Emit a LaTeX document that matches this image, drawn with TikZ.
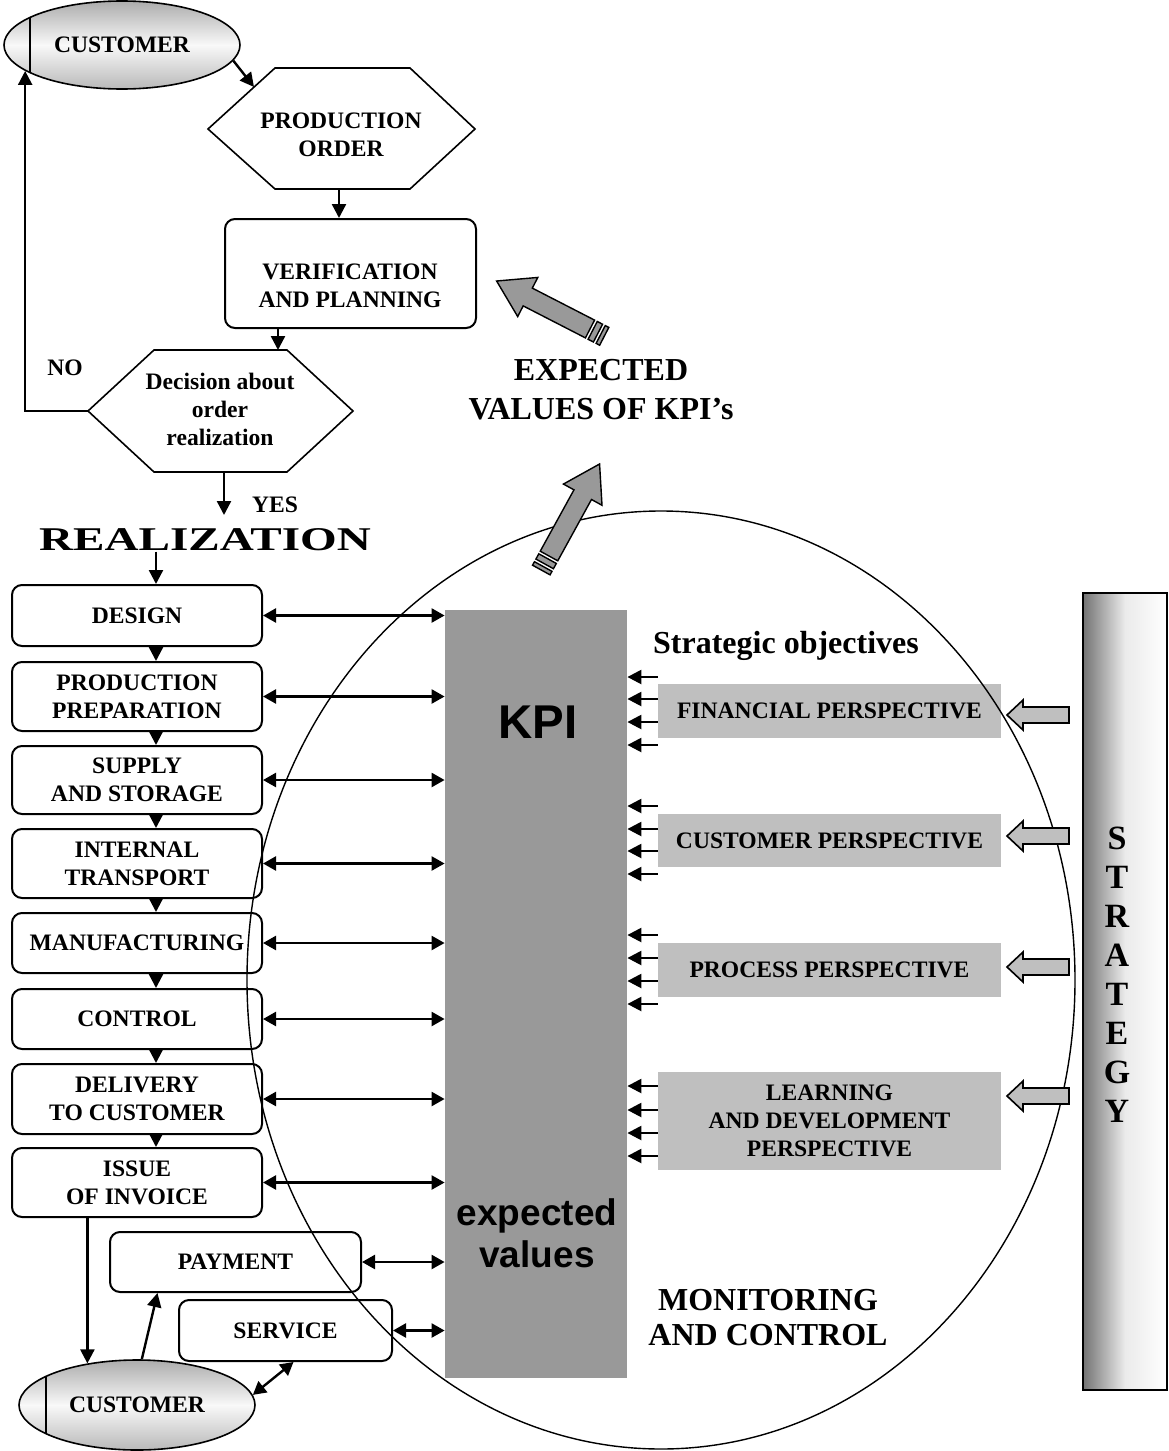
\documentclass[tikz,border=0pt]{standalone}
\usepackage{fontspec}
\setmainfont{Liberation Serif}
\newfontfamily\kpifont{Liberation Sans}
\usepackage{graphicx}
\usetikzlibrary{arrows.meta,fit,positioning,shapes.geometric}
\definecolor{kpigray}{gray}{0.6}
\definecolor{persgray}{gray}{0.75}
\begin{document}
\begin{tikzpicture}[x=0.5pt,y=-0.5pt,
  lbl/.style={font=\bfseries\fontsize{11.8}{14}\selectfont, align=center, inner sep=0pt},
  bigl/.style={font=\bfseries\fontsize{16}{19.5}\selectfont, align=center, inner sep=0pt},
  colbox/.style={draw, line width=1pt, rounded corners=5pt, lbl},
  hexa/.style={draw, line width=0.8pt},
  cust/.style={ellipse, draw, line width=0.8pt, lbl, minimum width=118pt, minimum height=44pt,
    top color=gray!65, bottom color=gray!55, middle color=gray!5},
  persp/.style={fill=persgray, lbl, minimum width=171.5pt},
  link/.style={line width=1.2pt, -{Triangle[length=7pt,width=7pt]}},
  dlink/.style={line width=1.2pt, {Triangle[length=6.5pt,width=7pt]}-{Triangle[length=6.5pt,width=7pt]}},
  fatarr/.style={draw, line width=0.7pt, fill=kpigray},
  hollow/.style={draw, line width=0.8pt, fill=persgray}]
\path[use as bounding box, fill=white] (0,0) rectangle (1168,1451);

% order handling
\node[cust] (cust1) at (122,45) {CUSTOMER};
\draw[line width=0.8pt] (cust1.center) ++(-92,-27.5) -- ++(0,55);
\draw[hexa] (208,129) -- (275,68) -- (410,68) -- (475,129) -- (410,189) -- (275,189) -- cycle;
\node[lbl] (order) at (341,135) {PRODUCTION\\ORDER};
\coordinate (ordin) at (254,87);
\coordinate (ordout) at (339,189);
\node[colbox, minimum width=125.5pt, minimum height=54.5pt] (verif) at (350.5,273.5) {};
\node[lbl] (veriftext) at (350,286) {VERIFICATION\\AND PLANNING};
\draw[hexa] (88,411) -- (154,350) -- (287,350) -- (353,411) -- (287,472) -- (154,472) -- cycle;
\node[lbl] (decision) at (220,409) {Decision about\\order\\realization};
\coordinate (decin) at (278,350);
\coordinate (decno) at (88,411);
\coordinate (decyes) at (224,472);
\coordinate (yesend) at (224,515);
\node[lbl] (no) at (65,368) {NO};
\node[lbl] (yes) at (275,505) {YES};
\node[lbl, font=\bfseries\fontsize{16.6}{20}\selectfont] (realiz) at (205,540) {\scalebox{1.42}[1]{REALIZATION}};

\draw[link] (cust1.-8) -- (ordin);
\draw[link] (ordout) -- (ordout |- verif.north);
\draw[link] (verif.south -| decin) -- (decin);
\draw[link] (decno) -| (cust1.195);
\draw[link] (decyes) -- (yesend);

% realization chain
\coordinate (spine) at (156,0);
\node[colbox, minimum width=125pt, minimum height=30.5pt] (design) at (137,615.5) {DESIGN};
\node[colbox, minimum width=125pt, minimum height=34.5pt] (prep) at (137,696.5) {PRODUCTION\\PREPARATION};
\node[colbox, minimum width=125pt, minimum height=34pt] (supply) at (137,780) {SUPPLY\\AND STORAGE};
\node[colbox, minimum width=125pt, minimum height=34.5pt] (transp) at (137,863.5) {INTERNAL\\TRANSPORT};
\node[colbox, minimum width=125pt, minimum height=30pt] (manuf) at (137,943) {MANUFACTURING};
\node[colbox, minimum width=125pt, minimum height=30pt] (control) at (137,1019) {CONTROL};
\node[colbox, minimum width=125pt, minimum height=35pt] (deliv) at (137,1099) {DELIVERY\\TO CUSTOMER};
\node[colbox, minimum width=125pt, minimum height=34.5pt] (issue) at (137,1182.5) {ISSUE\\OF INVOICE};
\node[colbox, minimum width=125.5pt, minimum height=30pt] (payment) at (235.5,1262) {PAYMENT};
\node[colbox, minimum width=106.5pt, minimum height=30.5pt] (service) at (285.5,1330.5) {SERVICE};
\node[cust, minimum height=45pt] (cust2) at (137,1405) {CUSTOMER};
\draw[line width=0.8pt] (cust2.center) ++(-91,-29) -- ++(0,58);

\draw[link] (realiz.south -| spine) -- (design.north -| spine);
\foreach \a/\b in {design/prep, prep/supply, supply/transp, transp/manuf,
                   manuf/control, control/deliv, deliv/issue}
  \draw[link] (\a.south -| spine) -- (\b.north -| spine);
\draw[link] (cust2.140 |- issue.south) -- (cust2.140);
\draw[link] (cust2.84) -- ([xshift=-39pt]payment.south);
\draw[dlink] (cust2.5) -- ([xshift=4pt]service.south);

% perspectives
\node[persp, minimum height=27pt] (fin) at (829.5,711) {FINANCIAL PERSPECTIVE};
\node[persp, minimum height=26.5pt] (cus) at (829.5,840.5) {CUSTOMER PERSPECTIVE};
\node[persp, minimum height=27pt] (pro) at (829.5,970) {PROCESS PERSPECTIVE};
\node[persp, minimum height=49pt] (lea) at (829.5,1121) {LEARNING\\AND DEVELOPMENT\\PERSPECTIVE};

% monitoring circle
\draw[line width=0.7pt] (661,980) ellipse [x radius=414, y radius=469];

\node[fill=kpigray, inner sep=0pt, fit={(445,610) (627,1378)}] (kpi) {};
\node[inner sep=0pt, font=\kpifont\bfseries\fontsize{23.7}{28}\selectfont] (kpit) at (538,722) {KPI};
\node[inner sep=0pt, align=center, font=\kpifont\bfseries\fontsize{18.5}{21}\selectfont] (expv) at (537,1233) {expected\\values};

\foreach \b in {design, prep, supply, transp, manuf, control, deliv, issue, payment, service}
  \draw[dlink] (\b.east) -- (\b.east -| kpi.west);
\foreach \b/\y in {fin/677, fin/699, fin/722, fin/745, cus/806, cus/829, cus/851, cus/874,
                   pro/935, pro/958, pro/981, pro/1004, lea/1086, lea/1110, lea/1133, lea/1156}
  \draw[link] (\b.west |- 0,\y) -- (kpi.east |- 0,\y);

\node[bigl] (strobj) at (786,646) {Strategic objectives};
\node[bigl, font=\bfseries\fontsize{16}{17.5}\selectfont] (monit) at (768,1318) {MONITORING\\AND CONTROL};
\node[bigl] (expect) at (601,390) {EXPECTED\\VALUES OF KPI’s};

% strategy
\node[draw, line width=0.8pt, inner sep=0pt, fit={(1083,593) (1167,1390)},
  left color=black!55, right color=white, middle color=black!8] (strat) {};
\foreach \c [count=\i from 0] in {S,T,R,A,T,E,G,Y}
  \node[bigl, font=\bfseries\fontsize{17}{20}\selectfont] (strat\i) at (1117,{838+39*\i}) {\c};
\foreach \y in {715,836,967,1096}
  \filldraw[hollow] (1007,\y) -- (1023,\y-15) -- (1023,\y-8) -- (1069,\y-8)
    -- (1069,\y+8) -- (1023,\y+8) -- (1023,\y+15) -- cycle;

% big arrows
\begin{scope}[shift={(590,329)}, rotate=152.8]
  \filldraw[fatarr] (0,-10) -- (70,-10) -- (70,-22) -- (105,0) -- (70,22) -- (70,10) -- (0,10) -- cycle;
  \filldraw[fatarr] (-3,-10) rectangle (-9,10);
  \filldraw[fatarr] (-12,-10) rectangle (-16,10);
\end{scope}
\begin{scope}[shift={(549,556)}, rotate=61.2]
  \filldraw[fatarr] (0,-10) -- (70,-10) -- (70,-22) -- (105,0) -- (70,22) -- (70,10) -- (0,10) -- cycle;
  \filldraw[fatarr] (-3,-10) rectangle (-9,10);
  \filldraw[fatarr] (-12,-10) rectangle (-16,10);
\end{scope}
\end{tikzpicture}
\end{document}
